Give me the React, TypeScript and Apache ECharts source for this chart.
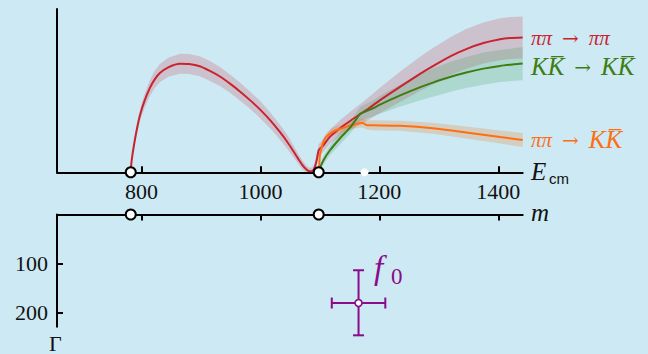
import React, { useEffect, useRef } from 'react';
import * as echarts from 'echarts';

// ---- axis settings ----
const xMin = 658;
const xMax = 1441;
const hMax = 163;
const gammaMax = 229.6;
const eTicks = [800, 1000, 1200, 1400];
const gammaTicks = [100, 200];
const thresholds = [782, 1098];
const markerDot = [1175];

// ---- ππ → ππ ----
const redE = [782, 783, 786, 790, 794, 798, 805, 814, 822, 831, 845, 865, 880, 898, 915, 932, 950, 966, 983, 1000, 1017, 1033, 1045, 1055, 1064, 1071, 1077, 1082, 1087, 1091, 1094, 1096, 1098, 1106, 1117, 1134, 1150, 1178, 1200, 1234, 1269, 1290, 1320, 1346, 1375, 1403, 1420, 1441];
const redMid = [0, 9, 22, 36, 48, 58, 71, 84, 92.5, 99, 104.8, 108.3, 108, 105.8, 101.2, 95.6, 88, 80.5, 71.8, 62.3, 51.5, 40, 30.5, 21.5, 13, 7, 3, 1, 1.2, 4.5, 10.5, 16.5, 22, 27, 35.6, 44, 51, 62, 71.5, 85, 98.5, 106, 116, 123, 129, 132.8, 134, 134.6];
const redErr = [0, 1.5, 3, 4, 5, 6, 7, 8, 8.5, 9, 9.5, 10, 10, 10, 10, 9.5, 9, 9, 8.5, 8.5, 8, 7.5, 7, 6, 5, 4.5, 4, 3.5, 3.5, 4, 5, 5.5, 6, 6.5, 7, 8, 9, 11, 12.5, 15, 17, 18, 19, 20, 20.5, 21, 21, 21];

// ---- KK̄ → KK̄ ----
const greenE = [1098, 1100, 1106, 1117, 1134, 1150, 1160, 1168, 1176, 1190, 1201, 1234, 1269, 1290, 1320, 1346, 1375, 1403, 1441];
const greenMid = [0, 4, 12, 22, 34, 44, 52, 58.5, 60.5, 64, 67.5, 76.5, 85, 89.5, 95.3, 99.6, 103.5, 106.2, 108.5];
const greenErr = [0, 2, 4, 5, 6, 6, 6.5, 7, 7.5, 8, 9, 11, 13, 14, 15, 15.5, 16, 16, 16.5];

// ---- ππ → KK̄ ----
const orangeE = [1098, 1099, 1100, 1103, 1106, 1111, 1122, 1135, 1145, 1156, 1167, 1172, 1178, 1189, 1234, 1290, 1346, 1403, 1441];
const orangeMid = [0, 8, 17, 25, 30.6, 35.6, 40.6, 43.5, 45.6, 47.5, 49, 49.3, 47.3, 47, 46.4, 44, 39.8, 35.2, 32.3];
const orangeErr = [0, 2, 3, 3.5, 4, 4, 4, 4, 4, 4, 4.5, 4.5, 4.5, 5, 5, 5.5, 6, 6.5, 7];

// ---- f0 pole: [low, central, high] ----
const f0Mass = [1120, 1165, 1210];
const f0Width = [114, 181, 247];

const BG = '#cde9f3';
const RED = '#c8242f';
const GREEN = '#3d7d12';
const ORANGE = '#ff6e12';
const PURPLE = '#8a0c8a';
const SERIF = 'Liberation Serif';
const ARROWFONT = 'DejaVu Serif';
const SANS = 'Liberation Sans';

function band(E: number[], mid: number[], err: number[], fill: string) {
  return {
    type: 'custom',
    xAxisIndex: 0,
    yAxisIndex: 0,
    silent: true,
    data: [[E[0], 0]],
    renderItem: (_p: any, api: any) => {
      const up = E.map((e, i) => api.coord([e, Math.min(hMax, mid[i] + err[i])]));
      const lo = E.map((e, i) => api.coord([e, Math.max(0, mid[i] - err[i])])).reverse();
      return { type: 'polygon', shape: { points: up.concat(lo) }, style: { fill } };
    },
  };
}

function line(E: number[], mid: number[], color: string) {
  return {
    type: 'line',
    xAxisIndex: 0,
    yAxisIndex: 0,
    data: E.map((e, i) => [e, mid[i]]),
    showSymbol: false,
    smooth: 0.2,
    lineStyle: { color, width: 2 },
    silent: true,
  };
}

function richLabel(color: string) {
  return {
    p: { font: `italic 21px ${SERIF}`, fill: color, verticalAlign: 'middle', lineHeight: 28 },
    k: { font: `italic 25px ${SERIF}`, fill: color, verticalAlign: 'middle', lineHeight: 28 },
    r: { font: `20px ${ARROWFONT}`, fill: color, verticalAlign: 'middle', lineHeight: 28 },
  };
}

const ARROW = '\u2002→\u2002';

export default function App() {
  const ref = useRef<HTMLDivElement>(null);
  useEffect(() => {
    if (!ref.current) return;
    const chart = echarts.init(ref.current, undefined, { renderer: 'svg' });
    const axisLine = { show: true, lineStyle: { color: '#000', width: 2 } };
    const plain = (v: number) => String(v);
    const option: any = {
      animation: false,
      backgroundColor: BG,
      textStyle: { fontFamily: SERIF },
      grid: [
        { left: 57, top: 9, width: 465.7, height: 163.3 },
        { left: 57, top: 214.5, width: 465.7, height: 112.3 },
      ],
      xAxis: [
        {
          gridIndex: 0, type: 'value', min: xMin, max: xMax,
          axisLine,
          axisTick: { show: true, inside: true, length: 6, customValues: eTicks, lineStyle: { color: '#000', width: 2 } },
          axisLabel: { customValues: eTicks, formatter: plain, fontFamily: SERIF, fontSize: 22, color: '#111', margin: 8 },
          splitLine: { show: false },
        },
        {
          gridIndex: 1, type: 'value', min: xMin, max: xMax, position: 'top',
          axisLine,
          axisTick: { show: true, inside: true, length: 6, customValues: eTicks, lineStyle: { color: '#000', width: 2 } },
          axisLabel: { show: false },
          splitLine: { show: false },
        },
      ],
      yAxis: [
        {
          gridIndex: 0, type: 'value', min: 0, max: hMax,
          axisLine, axisTick: { show: false }, axisLabel: { show: false }, splitLine: { show: false },
        },
        {
          gridIndex: 1, type: 'value', min: 0, max: gammaMax, inverse: true,
          axisLine,
          axisTick: { show: true, inside: true, length: 6, customValues: gammaTicks, lineStyle: { color: '#000', width: 2 } },
          axisLabel: { customValues: gammaTicks, formatter: plain, fontFamily: SERIF, fontSize: 22, color: '#111', margin: 9 },
          splitLine: { show: false },
        },
      ],
      series: [
        band(redE, redMid, redErr, 'rgba(200,40,60,0.2)'),
        band(greenE, greenMid, greenErr, 'rgba(40,150,70,0.2)'),
        band(orangeE, orangeMid, orangeErr, 'rgba(235,120,30,0.24)'),
        line(redE, redMid, RED),
        line(orangeE, orangeMid, ORANGE),
        line(greenE, greenMid, GREEN),
        {
          type: 'scatter', xAxisIndex: 0, yAxisIndex: 0, clip: false, silent: true,
          data: markerDot.map((e) => [e, 0]), symbolSize: 8,
          itemStyle: { color: '#fff', opacity: 1 }, z: 4,
        },
        {
          type: 'scatter', xAxisIndex: 0, yAxisIndex: 0, clip: false, silent: true,
          data: thresholds.map((e) => [e, 0]), symbolSize: 10,
          itemStyle: { color: '#fff', borderColor: '#000', borderWidth: 2, opacity: 1 }, z: 5,
        },
        {
          type: 'scatter', xAxisIndex: 1, yAxisIndex: 1, clip: false, silent: true,
          data: thresholds.map((e) => [e, 0]), symbolSize: 10,
          itemStyle: { color: '#fff', borderColor: '#000', borderWidth: 2, opacity: 1 }, z: 5,
        },
        {
          type: 'custom', xAxisIndex: 1, yAxisIndex: 1, silent: true,
          data: [[f0Mass[1], f0Width[1]]],
          renderItem: (_p: any, api: any) => {
            const c = api.coord([f0Mass[1], f0Width[1]]);
            const l = api.coord([f0Mass[0], f0Width[1]]);
            const r = api.coord([f0Mass[2], f0Width[1]]);
            const t = api.coord([f0Mass[1], f0Width[0]]);
            const b = api.coord([f0Mass[1], f0Width[2]]);
            const st = { stroke: PURPLE, lineWidth: 2 };
            const cap = 5.5;
            return {
              type: 'group',
              children: [
                { type: 'line', shape: { x1: l[0], y1: c[1], x2: r[0], y2: c[1] }, style: st },
                { type: 'line', shape: { x1: c[0], y1: t[1], x2: c[0], y2: b[1] }, style: st },
                { type: 'line', shape: { x1: l[0], y1: c[1] - cap, x2: l[0], y2: c[1] + cap }, style: st },
                { type: 'line', shape: { x1: r[0], y1: c[1] - cap, x2: r[0], y2: c[1] + cap }, style: st },
                { type: 'line', shape: { x1: c[0] - cap, y1: t[1], x2: c[0] + cap, y2: t[1] }, style: st },
                { type: 'line', shape: { x1: c[0] - cap, y1: b[1], x2: c[0] + cap, y2: b[1] }, style: st },
              ],
            };
          },
        },
        {
          type: 'scatter', xAxisIndex: 1, yAxisIndex: 1, clip: false, silent: true,
          data: [[f0Mass[1], f0Width[1]]], symbolSize: 7,
          itemStyle: { color: '#fff', borderColor: PURPLE, borderWidth: 1.6, opacity: 1 }, z: 6,
        },
      ],
      graphic: [
        {
          type: 'text', left: 531, top: 27,
          style: { text: `{p|ππ}{r|${ARROW}}{p|ππ}`, rich: richLabel(RED), fill: RED },
        },
        {
          type: 'text', left: 531, top: 54,
          style: { text: `{k|KK\u0305}{r|${ARROW}}{k|KK\u0305}`, rich: richLabel(GREEN), fill: GREEN },
        },
        {
          type: 'text', left: 531, top: 127,
          style: { text: `{p|ππ}{r|${ARROW}}{k|KK\u0305}`, rich: richLabel(ORANGE), fill: ORANGE },
        },
        {
          type: 'text', left: 531, top: 159,
          style: { text: 'E', font: `italic 25px ${SERIF}`, fill: '#111' },
        },
        {
          type: 'text', left: 549, top: 171,
          style: { text: 'cm', font: `15px ${SANS}`, fill: '#111' },
        },
        {
          type: 'text', left: 531, top: 200,
          style: { text: 'm', font: `italic 25px ${SERIF}`, fill: '#111' },
        },
        {
          type: 'text', left: 49, top: 332,
          style: { text: 'Γ', font: `22px ${SERIF}`, lineHeight: 22, fill: '#111' },
        },
        {
          type: 'text', left: 374, top: 251,
          style: { text: 'f', font: `italic 33px ${SERIF}`, fill: PURPLE },
        },
        {
          type: 'text', left: 391, top: 265,
          style: { text: '0', font: `23px ${SERIF}`, fill: PURPLE },
        },
      ],
    };
    chart.setOption(option);
    return () => chart.dispose();
  }, []);
  return (
    <div
      ref={ref}
      style={{ position: 'fixed', left: 0, top: 0, width: 648, height: 354 }}
    />
  );
}
